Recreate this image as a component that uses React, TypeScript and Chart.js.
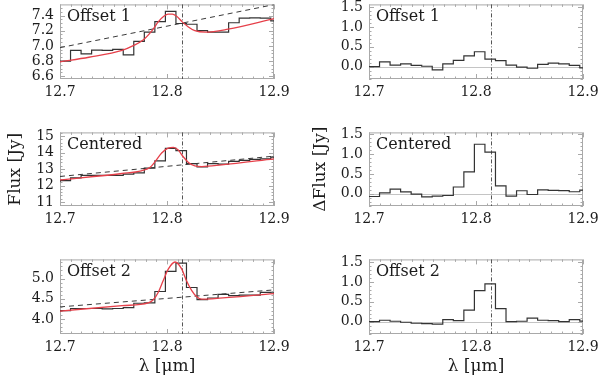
import React, { useEffect, useRef } from 'react';
import { Chart, registerables } from 'chart.js';

Chart.register(...registerables);

const FONT = "'DejaVu Serif', 'Liberation Serif', serif";
const TEXT = '#1c1c1c';

// ---- data ----
const wavelength = [12.6950, 12.7049, 12.7148, 12.7246, 12.7345, 12.7443, 12.7542, 12.7640, 12.7739, 12.7837, 12.7936,
  12.8034, 12.8133, 12.8231, 12.8330, 12.8428, 12.8527, 12.8625, 12.8724, 12.8822, 12.8921, 12.9019];

const fluxOffset1 = [6.80, 6.80, 6.94, 6.895, 6.945, 6.94, 6.955, 6.88, 7.06, 7.18, 7.32, 7.455, 7.295, 7.285, 7.20, 7.18, 7.18, 7.305, 7.365, 7.37, 7.365, 7.33];
const fluxCentered = [12.24, 12.30, 12.46, 12.61, 12.61, 12.62, 12.61, 12.69, 12.77, 13.05, 13.49, 14.25, 14.12, 13.33, 13.13, 13.33, 13.30, 13.47, 13.53, 13.59, 13.62, 13.72];
const fluxOffset2 = [4.19, 4.21, 4.26, 4.26, 4.26, 4.25, 4.26, 4.28, 4.39, 4.40, 4.68, 5.18, 5.38, 4.78, 4.48, 4.52, 4.61, 4.58, 4.59, 4.59, 4.66, 4.65];

const deltaOffset1 = [0.0, 0.0, 0.12, 0.04, 0.07, 0.03, 0.01, -0.08, 0.07, 0.16, 0.27, 0.375, 0.19, 0.15, 0.04, -0.01, -0.04, 0.06, 0.09, 0.07, 0.03, -0.03];
const deltaCentered = [-0.07, -0.07, 0.02, 0.115, 0.045, -0.01, -0.08, -0.06, -0.045, 0.17, 0.55, 1.25, 1.05, 0.2, -0.06, 0.075, -0.02, 0.095, 0.085, 0.08, 0.05, 0.09];
const deltaOffset2 = [0.0, 0.0, 0.035, 0.01, -0.015, -0.04, -0.05, -0.06, 0.05, 0.025, 0.29, 0.78, 0.95, 0.33, 0.0, 0.01, 0.09, 0.035, 0.025, 0.0, 0.05, 0.015];

const fitXOffset1 = [12.700, 12.727, 12.758, 12.768, 12.778, 12.786, 12.792, 12.797, 12.801, 12.805, 12.809, 12.814, 12.820, 12.826, 12.836, 12.857, 12.900];
const fitYOffset1 = [6.79, 6.85, 6.94, 7.00, 7.08, 7.20, 7.32, 7.39, 7.42, 7.42, 7.39, 7.32, 7.25, 7.20, 7.18, 7.22, 7.36];
const fitXCentered = [12.700, 12.758, 12.776, 12.784, 12.789, 12.795, 12.801, 12.806, 12.8105, 12.815, 12.820, 12.826, 12.8325, 12.851, 12.900];
const fitYCentered = [12.34, 12.73, 12.89, 13.09, 13.46, 13.97, 14.27, 14.31, 14.15, 13.76, 13.40, 13.19, 13.15, 13.25, 13.62];
const fitXOffset2 = [12.700, 12.758, 12.7825, 12.787, 12.792, 12.7966, 12.8013, 12.8075, 12.8137, 12.818, 12.823, 12.8278, 12.8325, 12.842, 12.900];
const fitYOffset2 = [4.197, 4.33, 4.40, 4.47, 4.67, 4.96, 5.24, 5.41, 5.24, 4.96, 4.71, 4.55, 4.49, 4.50, 4.63];

const xEnds = [12.7, 12.9];
const contOffset1 = [6.976, 7.544];
const contCentered = [12.55, 13.78];
const contOffset2 = [4.30, 4.72];

const lineCenter = 12.8136;
const zeroLevel = 0;

const xTicks = [12.7, 12.8, 12.9];
const ticksOffset1 = [6.6, 6.8, 7.0, 7.2, 7.4];
const ticksCentered = [11, 12, 13, 14, 15];
const ticksOffset2 = [4.0, 4.5, 5.0];
const ticksDelta = [0.0, 0.5, 1.0, 1.5];

const panelLabels = ['Offset 1', 'Centered', 'Offset 2'];

// ---- layout (page pixels) ----
const COLS = [
  { cx: 0, cw: 300, L: 60, R: 274 },
  { cx: 305, cw: 315, L: 369, R: 583 },
];
const ROWS = [
  { T: 4, B: 79 },
  { T: 132, B: 206 },
  { T: 259, B: 334 },
];

type PanelDef = {
  col: number; row: number; label: string;
  yVals: number[]; fitX?: number[]; fitY?: number[]; cont?: number[];
  yMin: number; yMax: number; yTicks: number[]; decimals: number; minor: number;
  yTitle?: string; xTitle?: string; zero?: boolean;
};

const panels: PanelDef[] = [
  { col: 0, row: 0, label: panelLabels[0], yVals: fluxOffset1, fitX: fitXOffset1, fitY: fitYOffset1, cont: contOffset1, yMin: 6.563, yMax: 7.547, yTicks: ticksOffset1, decimals: 1, minor: 0.05 },
  { col: 0, row: 1, label: panelLabels[1], yVals: fluxCentered, fitX: fitXCentered, fitY: fitYCentered, cont: contCentered, yMin: 10.76, yMax: 15.22, yTicks: ticksCentered, decimals: 0, minor: 0.2, yTitle: 'Flux [Jy]' },
  { col: 0, row: 2, label: panelLabels[2], yVals: fluxOffset2, fitX: fitXOffset2, fitY: fitYOffset2, cont: contOffset2, yMin: 3.63, yMax: 5.474, yTicks: ticksOffset2, decimals: 1, minor: 0.1, xTitle: 'λ [μm]' },
  { col: 1, row: 0, label: panelLabels[0], yVals: deltaOffset1, yMin: -0.31, yMax: 1.565, yTicks: ticksDelta, decimals: 1, minor: 0.1, zero: true },
  { col: 1, row: 1, label: panelLabels[1], yVals: deltaCentered, yMin: -0.31, yMax: 1.55, yTicks: ticksDelta, decimals: 1, minor: 0.1, zero: true, yTitle: 'ΔFlux [Jy]' },
  { col: 1, row: 2, label: panelLabels[2], yVals: deltaOffset2, yMin: -0.31, yMax: 1.565, yTicks: ticksDelta, decimals: 1, minor: 0.1, zero: true, xTitle: 'λ [μm]' },
];

const framePlugin = {
  id: 'frame',
  beforeDatasetsDraw(chart: any, _args: any, opts: any) {
    const { ctx, chartArea: a, scales } = chart;
    const x = scales.x, y = scales.y;
    ctx.save();
    // zero line
    if (opts.zero) {
      const py = Math.round(y.getPixelForValue(zeroLevel)) + 0.5;
      ctx.strokeStyle = '#c4c4c4';
      ctx.lineWidth = 1;
      ctx.beginPath(); ctx.moveTo(a.left, py); ctx.lineTo(a.right, py); ctx.stroke();
    }
    // frame
    ctx.strokeStyle = '#a9a9a9';
    ctx.lineWidth = 1;
    ctx.strokeRect(a.left + 0.5, a.top + 0.5, a.right - a.left - 1, a.bottom - a.top - 1);
    // ticks
    ctx.beginPath();
    const xn = Math.round((x.max - x.min) / 0.01);
    for (let i = 0; i <= xn; i++) {
      const v = x.min + i * 0.01;
      const px = Math.round(x.getPixelForValue(v)) + 0.5;
      const len = i % 10 === 0 ? 5 : 2.5;
      ctx.moveTo(px, a.bottom); ctx.lineTo(px, a.bottom - len);
      ctx.moveTo(px, a.top); ctx.lineTo(px, a.top + len);
    }
    const step = opts.minor;
    const start = Math.ceil(y.min / step - 1e-6);
    const end = Math.floor(y.max / step + 1e-6);
    const majors: number[] = opts.majors;
    for (let k = start; k <= end; k++) {
      const v = k * step;
      const isMajor = majors.some((m: number) => Math.abs(m - v) < step / 10);
      const py = Math.round(y.getPixelForValue(v)) + 0.5;
      const len = isMajor ? 5 : 2.5;
      ctx.moveTo(a.left, py); ctx.lineTo(a.left + len, py);
      ctx.moveTo(a.right, py); ctx.lineTo(a.right - len, py);
    }
    ctx.stroke();
    // line centre (dash-dot)
    const lx = Math.round(x.getPixelForValue(lineCenter)) + 0.5;
    ctx.strokeStyle = '#555';
    ctx.setLineDash([4, 2, 1, 2]);
    ctx.beginPath(); ctx.moveTo(lx, a.top); ctx.lineTo(lx, a.bottom); ctx.stroke();
    ctx.restore();
  },
  afterDatasetsDraw(chart: any, _args: any, opts: any) {
    const { ctx, chartArea: a } = chart;
    ctx.save();
    ctx.font = `16px ${FONT}`;
    ctx.fillStyle = TEXT;
    ctx.textBaseline = 'middle';
    ctx.textAlign = 'left';
    ctx.fillText(opts.label, a.left + 7, a.top + 12);
    ctx.restore();
  },
};

function Panel({ p }: { p: PanelDef }) {
  const ref = useRef<HTMLCanvasElement>(null);
  const col = COLS[p.col];
  const row = ROWS[p.row];
  const cy = row.T - 14;
  const bottom = p.row === 2 ? 378 : row.B + 30;
  const ch = bottom - cy;
  const xAxisH = bottom - row.B;

  useEffect(() => {
    const datasets: any[] = [];
    if (p.fitX && p.fitY) {
      datasets.push({
        data: p.fitX.map((x, i) => ({ x, y: p.fitY![i] })),
        borderColor: '#e6404a', borderWidth: 1.3, pointRadius: 0,
        cubicInterpolationMode: 'monotone', clip: 0,
      });
    }
    datasets.push({
      data: wavelength.map((x, i) => ({ x, y: p.yVals[i] })),
      stepped: 'middle', borderColor: '#333', borderWidth: 1.2, pointRadius: 0, clip: 0,
    });
    if (p.cont) {
      datasets.push({
        data: xEnds.map((x, i) => ({ x, y: p.cont![i] })),
        borderColor: '#3a3a3a', borderWidth: 1, borderDash: [5, 4], pointRadius: 0, clip: 0,
      });
    }
    const chart = new Chart(ref.current!, {
      type: 'line',
      data: { datasets },
      plugins: [framePlugin as any],
      options: {
        responsive: false,
        animation: false,
        events: [],
        layout: { padding: { top: 14, left: 0, right: col.cx + col.cw - col.R, bottom: 0 } },
        plugins: {
          legend: { display: false },
          tooltip: { enabled: false },
          frame: { label: p.label, zero: !!p.zero, minor: p.minor, majors: p.yTicks },
        } as any,
        scales: {
          x: {
            type: 'linear', min: xEnds[0], max: xEnds[1],
            grid: { display: false, drawTicks: false },
            border: { display: false },
            ticks: {
              padding: 5, color: TEXT, autoSkip: false, maxRotation: 0, minRotation: 0,
              font: { size: 14, family: FONT },
              callback: (v: any) => Number(v).toFixed(1),
            },
            afterBuildTicks: (s: any) => { s.ticks = xTicks.map((value) => ({ value })); },
            afterFit: (s: any) => { s.height = xAxisH; },
            title: {
              display: !!p.xTitle, text: p.xTitle || '', color: TEXT,
              font: { size: 17, family: FONT }, padding: { top: 0, bottom: 1 },
            },
          },
          y: {
            type: 'linear', min: p.yMin, max: p.yMax,
            grid: { display: false, drawTicks: false },
            border: { display: false },
            ticks: {
              padding: 6, color: TEXT, autoSkip: false,
              font: { size: 14, family: FONT },
              callback: (v: any) => Number(v).toFixed(p.decimals),
            },
            afterBuildTicks: (s: any) => { s.ticks = p.yTicks.map((value) => ({ value })); },
            afterFit: (s: any) => { s.width = col.L - col.cx; },
            title: {
              display: !!p.yTitle, text: p.yTitle || '', color: TEXT,
              font: { size: 17, family: FONT }, padding: { top: 5, bottom: 0 },
            },
          },
        },
      } as any,
    });
    return () => chart.destroy();
  }, []);

  return (
    <canvas
      ref={ref}
      width={col.cw}
      height={ch}
      style={{ position: 'absolute', left: col.cx, top: cy, width: col.cw, height: ch }}
    />
  );
}

export default function App() {
  return (
    <div style={{ position: 'absolute', left: 0, top: 0, width: 600, height: 378, overflow: 'hidden', background: '#fff' }}>
      {panels.map((p, i) => <Panel key={i} p={p} />)}
    </div>
  );
}
